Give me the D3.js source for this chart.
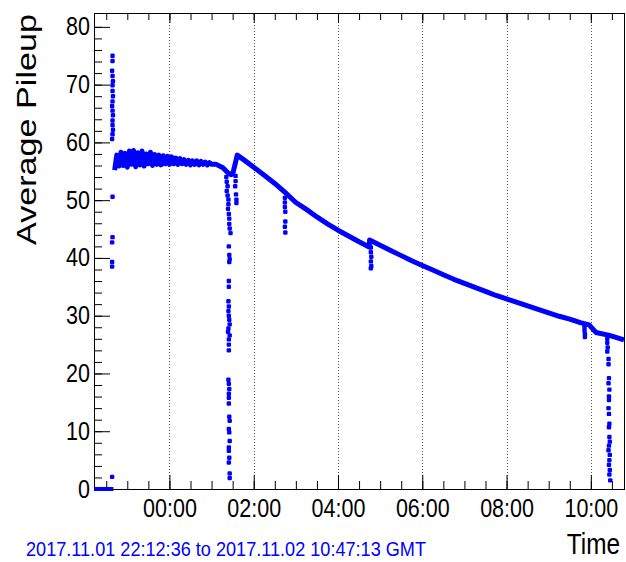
<!DOCTYPE html>
<html>
<head>
<meta charset="utf-8">
<script src="https://cdn.jsdelivr.net/npm/d3@7"></script>
<style>
  body { margin: 0; background: #fff; }
  svg { display: block; font-family: "Liberation Sans", Arial, Helvetica, sans-serif; }
</style>
</head>
<body>
<svg id="chart" width="626" height="562"></svg>
<script>
// times are hours relative to 2017-11-02 00:00 GMT
const startTime = "2017-11-01T22:12:36Z";
const endTime = "2017-11-02T10:47:13Z";
const rangeLabel = "2017.11.01 22:12:36 to 2017.11.02 10:47:13 GMT";

const yTicks = [0, 10, 20, 30, 40, 50, 60, 70, 80];

const zeroHours = [-1.79, -1.33];
const zeroValues = [0, 0];

const mainHours = [
  -1.30, -1.25, -1.20, -1.15, -1.10, -1.05, -1.00, -0.95, -0.90, -0.85,
  -0.80, -0.75, -0.70, -0.65, -0.60, -0.55, -0.50, -0.45, -0.40, -0.35,
  -0.30, -0.25, -0.20, -0.15, -0.10, -0.05, 0.00, 0.05, 0.10, 0.15,
  0.20, 0.25, 0.30, 0.35, 0.40, 0.45, 0.50, 0.55, 0.60, 0.65,
  0.70, 0.75, 0.80, 0.85, 0.90, 0.95, 1.00,
  1.11, 1.27, 1.38, 1.46, 1.50, 1.61,
  1.80, 2.00, 2.25, 2.50, 2.75, 3.00, 3.25, 3.50, 3.75, 4.00,
  4.25, 4.50, 4.74, 4.75, 5.00, 5.25, 5.50, 5.75, 6.00, 6.25,
  6.50, 6.75, 7.00, 7.25, 7.50, 7.75, 8.00, 8.25, 8.50, 8.75,
  9.00, 9.25, 9.50, 9.75, 9.96, 10.12, 10.44, 10.787
];
const mainValues = [
  55.2, 57.8, 55.9, 58.3, 56.0, 58.1, 55.7, 58.5, 56.2, 58.6,
  55.8, 58.2, 56.1, 58.5, 55.9, 58.0, 56.3, 58.3, 56.0, 57.9,
  56.2, 57.8, 56.1, 57.7, 56.3, 57.6, 56.2, 57.5, 56.3, 57.3,
  56.2, 57.2, 56.3, 57.0, 56.2, 56.9, 56.1, 56.8, 56.2, 56.8,
  56.1, 56.7, 56.2, 56.6, 56.1, 56.5, 56.2,
  56.2, 55.6, 54.8, 54.4, 54.5, 57.8,
  56.8, 55.7, 54.3, 52.9, 51.3, 49.6, 48.4, 47.1, 45.9, 44.8,
  43.8, 42.8, 41.9, 43.1, 42.2, 41.3, 40.4, 39.5, 38.7, 37.9,
  37.1, 36.3, 35.6, 34.9, 34.2, 33.5, 32.9, 32.3, 31.7, 31.1,
  30.5, 29.9, 29.4, 28.8, 28.4, 27.1, 26.6, 25.8
];

const spikeHours = [-1.35, -1.35, -1.36, -1.35, -1.34, -1.35, -1.35, -1.34, -1.35, -1.36, -1.35, -1.34, -1.35, -1.35, -1.34, -1.35, -1.36, -1.35, -1.35, -1.36, -1.36, -1.36, -1.36];
const spikeValues = [75.0, 74.1, 72.4, 71.5, 70.6, 69.9, 68.9, 68.0, 67.1, 66.3, 65.5, 64.7, 63.8, 63.0, 62.2, 61.4, 60.6, 50.6, 43.6, 42.7, 39.3, 38.5, 2.1];

const dip1Hours = [1.35, 1.36, 1.38, 1.36, 1.38, 1.40, 1.40, 1.39, 1.41, 1.42, 1.42, 1.43, 1.45, 1.41, 1.42, 1.43, 1.42,
  1.41, 1.41, 1.40, 1.41, 1.40, 1.41, 1.42, 1.43, 1.40, 1.39, 1.43, 1.41, 1.41, 1.41,
  1.40, 1.41, 1.42, 1.41, 1.41, 1.41, 1.42, 1.43, 1.41, 1.42, 1.43, 1.41, 1.41, 1.42, 1.41, 1.43, 1.43];
const dip1Values = [54.0, 53.2, 52.4, 51.6, 50.8, 50.1, 49.3, 48.5, 47.6, 46.8, 45.9, 45.1, 44.3, 42.0, 40.5, 39.8, 39.3,
  36.0, 35.0, 32.5, 31.6, 30.8, 30.0, 29.3, 28.5, 27.8, 27.2, 26.6, 25.9, 25.0, 24.0,
  18.9, 18.2, 17.3, 16.5, 15.8, 14.8, 12.5, 11.8, 10.4, 9.8, 8.3, 7.2, 6.6, 5.4, 4.6, 2.7, 1.9];

const dip2Hours = [1.57, 1.57, 1.56, 1.58, 1.59, 1.59];
const dip2Values = [54.2, 53.3, 52.4, 51.0, 50.1, 49.5];

const dip3Hours = [2.74, 2.74, 2.74, 2.75, 2.75, 2.74, 2.75];
const dip3Values = [50.4, 49.6, 48.8, 48.0, 46.3, 45.4, 44.4];

const dip4Hours = [4.78, 4.78, 4.79, 4.78, 4.79, 4.78];
const dip4Values = [41.8, 41.0, 40.2, 39.4, 38.6, 38.2];

const dip5Hours = [9.85, 9.85, 9.86, 9.86];
const dip5Values = [28.0, 27.4, 26.8, 26.3];

const dip6Hours = [10.39, 10.39, 10.40, 10.39, 10.42, 10.42, 10.43, 10.42, 10.44, 10.43, 10.43, 10.42, 10.43,
  10.44, 10.43, 10.44, 10.45, 10.43, 10.42, 10.45, 10.44, 10.43, 10.45, 10.44, 10.46];
const dip6Values = [26.0, 25.3, 24.5, 23.8, 22.5, 21.6, 19.2, 18.3, 17.2, 16.0, 15.4, 14.0, 13.0,
  11.3, 10.7, 9.0, 8.2, 7.5, 6.7, 5.9, 5.0, 4.2, 3.3, 2.5, 1.5];

// layout
const plotLeft = 94, plotRight = 624, plotTop = 13, plotBottom = 489;
const blue = "#0000ff";
const midnight = Date.UTC(2017, 10, 2);
const toDate = h => new Date(midnight + h * 3600e3);

const svg = d3.select("#chart");

const x = d3.scaleUtc()
    .domain([new Date(startTime), new Date(endTime)])
    .range([plotLeft, plotRight]);
const y = d3.scaleLinear().domain([0, 82.4]).range([plotBottom, plotTop]);

function squeeze(sel, k) {
    sel.each(function () {
        const w = this.getComputedTextLength();
        d3.select(this).attr("textLength", w * k).attr("lengthAdjust", "spacingAndGlyphs");
    });
}

// vertical grid
svg.append("g")
    .selectAll("line")
    .data(x.ticks(d3.utcHour.every(2)))
    .enter()
    .append("line")
    .attr("x1", d => Math.round(x(d)) + 0.5)
    .attr("x2", d => Math.round(x(d)) + 0.5)
    .attr("y1", plotTop)
    .attr("y2", plotBottom)
    .attr("stroke", "#555")
    .attr("stroke-dasharray", "1,2");

function styleAxis(g) {
    g.select(".domain").remove();
    g.selectAll(".tick line").attr("stroke", "#000");
    g.attr("font-family", null).attr("font-size", 25);
}

// bottom axis
svg.append("g")
    .attr("transform", `translate(0,${plotBottom})`)
    .call(d3.axisBottom(x).ticks(d3.utcMinute.every(30)).tickSize(-8).tickFormat(""))
    .call(styleAxis);
const xMajor = svg.append("g")
    .attr("transform", `translate(0,${plotBottom})`)
    .call(d3.axisBottom(x).ticks(d3.utcHour.every(2)).tickFormat(d3.utcFormat("%H:%M")).tickSize(-14).tickPadding(10))
    .call(styleAxis);
xMajor.selectAll("text").attr("fill", "#000");
squeeze(xMajor.selectAll("text"), 0.86);

// top axis
svg.append("g")
    .attr("transform", `translate(0,${plotTop})`)
    .call(d3.axisTop(x).ticks(d3.utcMinute.every(30)).tickSize(-7).tickFormat(""))
    .call(styleAxis);
svg.append("g")
    .attr("transform", `translate(0,${plotTop})`)
    .call(d3.axisTop(x).ticks(d3.utcHour.every(2)).tickSize(-10).tickFormat(""))
    .call(styleAxis);

// left axis
svg.append("g")
    .attr("transform", `translate(${plotLeft},0)`)
    .call(d3.axisLeft(y).tickValues(d3.range(0, 82, 2)).tickSize(-8).tickFormat(""))
    .call(styleAxis);
const yMajor = svg.append("g")
    .attr("transform", `translate(${plotLeft},0)`)
    .call(d3.axisLeft(y).tickValues(yTicks).tickSize(-16).tickPadding(4))
    .call(styleAxis);
yMajor.selectAll("text").attr("fill", "#000");
squeeze(yMajor.selectAll("text"), 0.86);

// frame
svg.append("rect")
    .attr("x", plotLeft + 0.5)
    .attr("y", plotTop + 0.5)
    .attr("width", plotRight - plotLeft)
    .attr("height", plotBottom - plotTop)
    .attr("fill", "none")
    .attr("stroke", "#000");

// data
const line = d3.line()
    .x(d => x(toDate(d[0])))
    .y(d => y(d[1]));

svg.append("path")
    .datum(zeroHours.map((h, i) => [h, zeroValues[i]]))
    .attr("d", line)
    .attr("fill", "none")
    .attr("stroke", blue)
    .attr("stroke-width", 4);

svg.append("path")
    .datum(mainHours.map((h, i) => [h, mainValues[i]]))
    .attr("d", line)
    .attr("fill", "none")
    .attr("stroke", blue)
    .attr("stroke-width", 5)
    .attr("stroke-linejoin", "round");

const dots = [
    [spikeHours, spikeValues],
    [dip1Hours, dip1Values],
    [dip2Hours, dip2Values],
    [dip3Hours, dip3Values],
    [dip4Hours, dip4Values],
    [dip5Hours, dip5Values],
    [dip6Hours, dip6Values]
].flatMap(([hs, vs]) => hs.map((h, i) => [h, vs[i]]));

svg.append("g")
    .selectAll("rect")
    .data(dots)
    .enter()
    .append("rect")
    .attr("x", d => x(toDate(d[0])) - 2.2)
    .attr("y", d => y(d[1]) - 2.2)
    .attr("width", 4.4)
    .attr("height", 4.4)
    .attr("rx", 1.2)
    .attr("fill", blue);

// titles
svg.append("text")
    .attr("transform", "translate(36,14) rotate(-90)")
    .attr("text-anchor", "end")
    .attr("font-size", 28)
    .attr("fill", "#000")
    .attr("textLength", 231)
    .attr("lengthAdjust", "spacingAndGlyphs")
    .text("Average Pileup");

svg.append("text")
    .attr("transform", "translate(620,554) scale(0.84,1)")
    .attr("text-anchor", "end")
    .attr("font-size", 29)
    .attr("fill", "#000")
    .text("Time");

svg.append("text")
    .attr("x", 26)
    .attr("y", 556)
    .attr("font-size", 21)
    .attr("fill", blue)
    .attr("textLength", 400)
    .attr("lengthAdjust", "spacingAndGlyphs")
    .text(rangeLabel);
</script>
</body>
</html>
